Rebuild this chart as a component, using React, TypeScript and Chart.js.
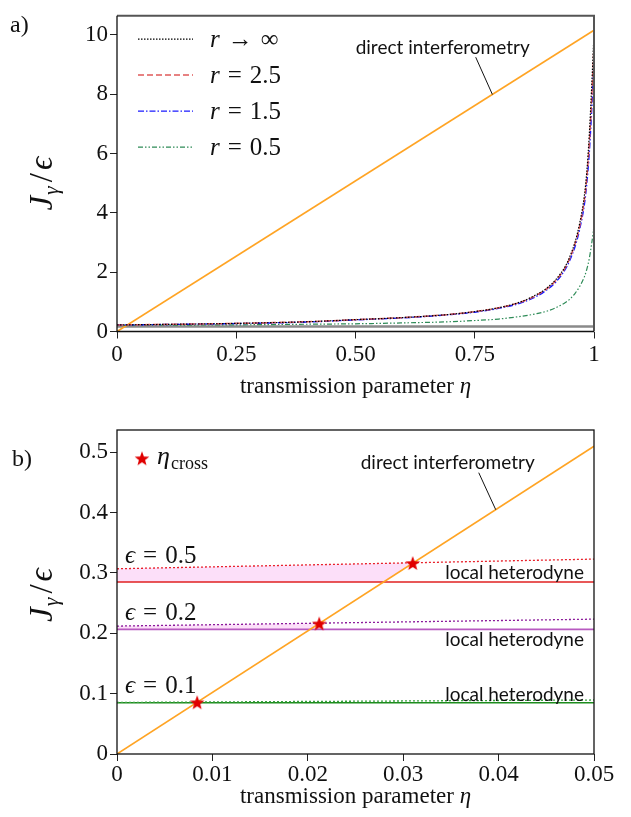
import React, { useEffect, useRef } from "react";
import { Chart, registerables } from "chart.js";
Chart.register(...registerables);

// ---------------- Panel a) data ----------------
const etaA = [0, 0.1, 0.2, 0.3, 0.4, 0.5, 0.6, 0.7, 0.75, 0.8, 0.85, 0.88, 0.9, 0.92, 0.94, 0.95, 0.96, 0.97, 0.98, 0.985, 0.99, 0.995, 0.998, 1];
const jRInf = [0.22, 0.24, 0.26, 0.29, 0.33, 0.4, 0.47, 0.58, 0.67, 0.8, 1.02, 1.25, 1.45, 1.75, 2.2, 2.55, 3.0, 3.65, 4.6, 5.4, 6.6, 8.2, 9.3, 10.1];
const jR25 = [0.22, 0.24, 0.26, 0.29, 0.33, 0.4, 0.47, 0.58, 0.67, 0.8, 1.01, 1.23, 1.43, 1.72, 2.16, 2.5, 2.95, 3.55, 4.45, 5.2, 6.3, 7.8, 8.9, 9.7];
const jR15 = [0.22, 0.235, 0.255, 0.28, 0.32, 0.39, 0.46, 0.57, 0.65, 0.78, 0.98, 1.19, 1.39, 1.67, 2.1, 2.43, 2.85, 3.45, 4.3, 5.0, 6.0, 7.4, 8.4, 9.2];
const jR05 = [0.21, 0.215, 0.22, 0.23, 0.245, 0.26, 0.29, 0.33, 0.37, 0.42, 0.52, 0.6, 0.68, 0.8, 0.98, 1.1, 1.28, 1.52, 1.85, 2.1, 2.45, 2.95, 3.3, 3.6];
const etaDirectA = [0, 1];
const jDirectA = [0, 10.15];
const jHeteroA = 0.165;
const legendRelA = ["→", "=", "=", "="];
const legendValA = ["∞", "2.5", "1.5", "0.5"];
const xTicksA = [0, 0.25, 0.5, 0.75, 1];
const xLabelsA = ["0", "0.25", "0.50", "0.75", "1"];
const yTicksA = [0, 2, 4, 6, 8, 10];
const yLabelsA = ["0", "2", "4", "6", "8", "10"];

// ---------------- Panel b) data ----------------
const etaB = [0, 0.05];
const jDirectB = [0, 0.51];
const epsLabels = ["0.5", "0.2", "0.1"];
const jDot05 = [0.307, 0.323];
const jDot02 = [0.212, 0.2235];
const jDot01 = [0.0855, 0.0895];
const jHet05 = 0.285;
const jHet02 = 0.2065;
const jHet01 = 0.085;
const crossEta = [0.0084, 0.0212, 0.031];
const crossJ = [0.0857, 0.2163, 0.3165];
const xTicksB = [0, 0.01, 0.02, 0.03, 0.04, 0.05];
const xLabelsB = ["0", "0.01", "0.02", "0.03", "0.04", "0.05"];
const yTicksB = [0, 0.1, 0.2, 0.3, 0.4, 0.5];
const yLabelsB = ["0", "0.1", "0.2", "0.3", "0.4", "0.5"];

// ---------------- helpers ----------------
const SERIF = '"Liberation Serif", serif';
const SANS = 'Lato, "Open Sans", sans-serif';
const ORANGE = "#ffa424";

function interp(xs: number[], ys: number[], x: number) {
  for (let i = 0; i < xs.length - 1; i++) {
    if (x >= xs[i] && x <= xs[i + 1]) {
      const t = (x - xs[i]) / (xs[i + 1] - xs[i]);
      return ys[i] + t * (ys[i + 1] - ys[i]);
    }
  }
  return ys[ys.length - 1];
}
function invInterp(xs: number[], ys: number[], y: number) {
  for (let i = 0; i < xs.length - 1; i++) {
    const lo = Math.min(ys[i], ys[i + 1]);
    const hi = Math.max(ys[i], ys[i + 1]);
    if (y >= lo && y <= hi) {
      const t = (y - ys[i]) / (ys[i + 1] - ys[i]);
      return xs[i] + t * (xs[i + 1] - xs[i]);
    }
  }
  return xs[xs.length - 1];
}
const pts = (xs: number[], ys: number[]) => xs.map((x, i) => ({ x, y: ys[i] }));

type Run = { t: string; f: string; dy?: number; gap?: number };
function drawRuns(ctx: CanvasRenderingContext2D, runs: Run[], x: number, y: number, align: "left" | "center" | "right") {
  ctx.textAlign = "left";
  let total = 0;
  const ws = runs.map((r) => {
    ctx.font = r.f;
    const w = ctx.measureText(r.t).width;
    total += w + (r.gap || 0);
    return w;
  });
  let cx = align === "left" ? x : align === "center" ? x - total / 2 : x - total;
  runs.forEach((r, i) => {
    ctx.font = r.f;
    ctx.fillText(r.t, cx, y + (r.dy || 0));
    cx += ws[i] + (r.gap || 0);
  });
}

function drawYTitle(ctx: CanvasRenderingContext2D, bx: number, cy: number) {
  ctx.save();
  ctx.translate(bx, cy);
  ctx.rotate(-Math.PI / 2);
  ctx.fillStyle = "#111";
  ctx.textBaseline = "alphabetic";
  drawRuns(
    ctx,
    [
      { t: "J", f: `italic 33px ${SERIF}`, gap: 1 },
      { t: "γ", f: `italic 22px ${SERIF}`, dy: 6, gap: 4 },
      { t: "/", f: `33px ${SERIF}`, gap: 3 },
      { t: "ϵ", f: `italic 33px ${SERIF}` },
    ],
    0,
    0,
    "center"
  );
  ctx.restore();
}

function drawXTitle(ctx: CanvasRenderingContext2D, cx: number, cy: number) {
  ctx.save();
  ctx.fillStyle = "#111";
  ctx.textBaseline = "middle";
  drawRuns(
    ctx,
    [
      { t: "transmission parameter ", f: `23px ${SERIF}` },
      { t: "η", f: `italic 23px ${SERIF}` },
    ],
    cx,
    cy,
    "center"
  );
  ctx.restore();
}

function makeStar(size: number, color: string) {
  const c = document.createElement("canvas");
  c.width = size;
  c.height = size;
  const g = c.getContext("2d")!;
  const cx = size / 2;
  const cy = size / 2 + 0.8;
  const r = size / 2 - 0.3;
  const ri = r * 0.42;
  g.beginPath();
  for (let k = 0; k < 10; k++) {
    const a = -Math.PI / 2 + (k * Math.PI) / 5;
    const rr = k % 2 ? ri : r;
    g.lineTo(cx + rr * Math.cos(a), cy + rr * Math.sin(a));
  }
  g.closePath();
  g.fillStyle = color;
  g.fill();
  return c;
}

function axis(min: number, max: number, ticks: number[], labels: string[], isX: boolean, size: number, pad: number) {
  return {
    type: "linear" as const,
    min,
    max,
    afterBuildTicks: (s: any) => {
      s.ticks = ticks.map((v) => ({ value: v }));
    },
    afterFit: (s: any) => {
      if (isX) s.height = size;
      else s.width = size;
    },
    ticks: {
      autoSkip: false,
      maxRotation: 0,
      color: "#111",
      padding: pad,
      font: { family: SERIF, size: 23 },
      callback: (_v: any, i: number) => labels[i] ?? "",
    },
    grid: { display: true, drawOnChartArea: false, drawTicks: true, tickLength: 7, color: "#222", lineWidth: 1 },
    border: { display: false },
  };
}

const lineBase = { pointRadius: 0, fill: false, cubicInterpolationMode: "monotone" as const };

// ---------------- Panel a config ----------------
function configA(): any {
  const annEta = 0.787;
  const decor = {
    id: "decorA",
    afterDraw(chart: any) {
      const { ctx, chartArea: ca, scales } = chart;
      const x = scales.x;
      const y = scales.y;
      ctx.save();
      ctx.strokeStyle = "#555";
      ctx.lineWidth = 2;
      ctx.beginPath();
      ctx.moveTo(ca.left, ca.top);
      ctx.lineTo(ca.right, ca.top);
      ctx.lineTo(ca.right, ca.bottom);
      ctx.stroke();
      ctx.strokeStyle = "#111";
      ctx.lineWidth = 1.3;
      ctx.beginPath();
      ctx.moveTo(ca.left, ca.top);
      ctx.lineTo(ca.left, ca.bottom);
      ctx.lineTo(ca.right, ca.bottom);
      ctx.stroke();

      const ds = chart.data.datasets;
      for (let i = 0; i < 4; i++) {
        const d = ds[i];
        const ly = ca.top + 23.3 + i * 36;
        ctx.save();
        ctx.strokeStyle = d.borderColor;
        ctx.lineWidth = d.borderWidth;
        ctx.setLineDash(d.borderDash || []);
        ctx.beginPath();
        ctx.moveTo(ca.left + 21, ly);
        ctx.lineTo(ca.left + 76, ly);
        ctx.stroke();
        ctx.restore();
        ctx.fillStyle = "#111";
        ctx.textBaseline = "middle";
        drawRuns(
          ctx,
          [
            { t: "r", f: `italic 25px ${SERIF}`, gap: 8 },
            { t: legendRelA[i], f: `25px ${SERIF}`, gap: 8 },
            { t: legendValA[i], f: `25px ${SERIF}` },
          ],
          ca.left + 93,
          ly + 1,
          "left"
        );
      }

      const tx = x.getPixelForValue(annEta);
      const ty = y.getPixelForValue(interp(etaDirectA, jDirectA, annEta));
      ctx.strokeStyle = "#111";
      ctx.lineWidth = 1;
      ctx.beginPath();
      ctx.moveTo(tx - 16.7, ty - 37.3);
      ctx.lineTo(tx, ty);
      ctx.stroke();
      ctx.fillStyle = "#111";
      ctx.textBaseline = "middle";
      ctx.font = `19px ${SANS}`;
      ctx.textAlign = "right";
      ctx.fillText("direct interferometry", tx + 37.3, ty - 46.3);

      ctx.textAlign = "left";
      ctx.font = `24px ${SERIF}`;
      ctx.fillText("a)", 10, 26);

      drawYTitle(ctx, 52, (ca.top + ca.bottom) / 2 + 10);
      drawXTitle(ctx, (ca.left + ca.right) / 2, ca.bottom + 55.5);
      ctx.restore();
    },
  };

  return {
    type: "line",
    data: {
      datasets: [
        { ...lineBase, label: "r→∞", data: pts(etaA, jRInf), borderColor: "#000", borderWidth: 1.2, borderDash: [1.5, 1.5] },
        { ...lineBase, label: "r=2.5", data: pts(etaA, jR25), borderColor: "#e05a5a", borderWidth: 1.5, borderDash: [6, 3] },
        { ...lineBase, label: "r=1.5", data: pts(etaA, jR15), borderColor: "#1a1aff", borderWidth: 1.4, borderDash: [6, 2, 1.5, 2] },
        { ...lineBase, label: "r=0.5", data: pts(etaA, jR05), borderColor: "#2e8b57", borderWidth: 1.2, borderDash: [5, 2, 1.5, 2, 1.5, 2] },
        { ...lineBase, label: "direct", data: pts(etaDirectA, jDirectA), borderColor: ORANGE, borderWidth: 1.7 },
        { ...lineBase, label: "hetero", data: pts(etaDirectA, [jHeteroA, jHeteroA]), borderColor: "#8a8a8a", borderWidth: 2.5 },
      ],
    },
    options: {
      responsive: false,
      maintainAspectRatio: false,
      animation: false,
      devicePixelRatio: 1,
      events: [],
      layout: { padding: { left: 0, right: 37, top: 10, bottom: 6.5 } },
      plugins: { legend: { display: false }, tooltip: { enabled: false } },
      scales: {
        x: axis(0, 1, xTicksA, xLabelsA, true, 70, 3),
        y: axis(0, 10.64, yTicksA, yLabelsA, false, 117, 2),
      },
    },
    plugins: [decor],
  };
}

// ---------------- Panel b config ----------------
function configB(): any {
  const star = makeStar(16, "#e00000");
  const fillPair = (dot: number[], het: number, cEta: number) => {
    const hit = invInterp(etaB, jDirectB, het);
    const xs = [0, hit, cEta];
    const upper = xs.map((e) => interp(etaB, dot, e));
    const lower = [het, het, interp(etaB, dot, cEta)];
    return { upper: pts(xs, upper), lower: pts(xs, lower) };
  };
  const f05 = fillPair(jDot05, jHet05, crossEta[2]);
  const f02 = fillPair(jDot02, jHet02, crossEta[1]);
  const FILL = "rgba(246,150,236,0.3)";
  const annEta = 0.0397;
  const dots = [jDot05, jDot02, jDot01];
  const hets = [jHet05, jHet02, jHet01];
  const epsOff = [-6, -6, -9];
  const hetOff = [-9, 10, -8];

  const decor = {
    id: "decorB",
    afterDraw(chart: any) {
      const { ctx, chartArea: ca, scales } = chart;
      const x = scales.x;
      const y = scales.y;
      ctx.save();
      ctx.strokeStyle = "#111";
      ctx.lineWidth = 1.3;
      ctx.strokeRect(ca.left, ca.top, ca.right - ca.left, ca.bottom - ca.top);

      ctx.fillStyle = "#111";
      ctx.textBaseline = "alphabetic";
      for (let i = 0; i < 3; i++) {
        const py = y.getPixelForValue(dots[i][0]) + epsOff[i];
        drawRuns(
          ctx,
          [
            { t: "ϵ", f: `italic 25px ${SERIF}`, gap: 8 },
            { t: "=", f: `25px ${SERIF}`, gap: 8 },
            { t: epsLabels[i], f: `25px ${SERIF}` },
          ],
          ca.left + 8,
          py,
          "left"
        );
      }
      ctx.textBaseline = "middle";
      ctx.font = `19px ${SANS}`;
      ctx.textAlign = "right";
      for (let i = 0; i < 3; i++) {
        const py = y.getPixelForValue(hets[i]) + hetOff[i];
        ctx.fillText("local heterodyne", ca.right - 10, py);
      }
      const tx = x.getPixelForValue(annEta);
      const ty = y.getPixelForValue(interp(etaB, jDirectB, annEta));
      ctx.lineWidth = 1;
      ctx.beginPath();
      ctx.moveTo(tx - 17, ty - 37);
      ctx.lineTo(tx, ty);
      ctx.stroke();
      ctx.fillText("direct interferometry", tx + 39, ty - 47);

      const sx = ca.left + 25;
      const sy = ca.top + 28.3;
      ctx.drawImage(star, sx - star.width / 2, sy - star.height / 2);
      ctx.textBaseline = "alphabetic";
      drawRuns(
        ctx,
        [
          { t: "η", f: `italic 26px ${SERIF}`, gap: 1 },
          { t: "cross", f: `18px ${SERIF}`, dy: 5 },
        ],
        sx + 15,
        sy + 6,
        "left"
      );

      ctx.textAlign = "left";
      ctx.textBaseline = "middle";
      ctx.font = `24px ${SERIF}`;
      ctx.fillText("b)", 12, 52);

      drawYTitle(ctx, 52, (ca.top + ca.bottom) / 2 + 3);
      drawXTitle(ctx, (ca.left + ca.right) / 2, ca.bottom + 43);
      ctx.restore();
    },
  };

  return {
    type: "line",
    data: {
      datasets: [
        { label: "η_cross", data: pts(crossEta, crossJ), showLine: false, pointStyle: star, pointRadius: 8, borderWidth: 0 },
        { ...lineBase, label: "direct", data: pts(etaB, jDirectB), borderColor: ORANGE, borderWidth: 1.6 },
        { ...lineBase, label: "dot05", data: pts(etaB, jDot05), borderColor: "#e8202a", borderWidth: 1.3, borderDash: [2, 2] },
        { ...lineBase, label: "dot02", data: pts(etaB, jDot02), borderColor: "#8b1a9b", borderWidth: 1.3, borderDash: [2, 2] },
        { ...lineBase, label: "dot01", data: pts(etaB, jDot01), borderColor: "#3aa040", borderWidth: 1.3, borderDash: [2, 2] },
        { ...lineBase, label: "het05", data: pts(etaB, [jHet05, jHet05]), borderColor: "#e02020", borderWidth: 1.4 },
        { ...lineBase, label: "het02", data: pts(etaB, [jHet02, jHet02]), borderColor: "#b75ac0", borderWidth: 1.6 },
        { ...lineBase, label: "het01", data: pts(etaB, [jHet01, jHet01]), borderColor: "#1d8c1d", borderWidth: 1.4 },
        { label: "fillU05", data: f05.upper, pointRadius: 0, borderWidth: 0, borderColor: "rgba(0,0,0,0)", backgroundColor: FILL, fill: { target: 9 } },
        { label: "fillL05", data: f05.lower, pointRadius: 0, borderWidth: 0, borderColor: "rgba(0,0,0,0)", fill: false },
        { label: "fillU02", data: f02.upper, pointRadius: 0, borderWidth: 0, borderColor: "rgba(0,0,0,0)", backgroundColor: FILL, fill: { target: 11 } },
        { label: "fillL02", data: f02.lower, pointRadius: 0, borderWidth: 0, borderColor: "rgba(0,0,0,0)", fill: false },
      ],
    },
    options: {
      responsive: false,
      maintainAspectRatio: false,
      animation: false,
      devicePixelRatio: 1,
      events: [],
      layout: { padding: { left: 0, right: 37, top: 22, bottom: 5 } },
      plugins: { legend: { display: false }, tooltip: { enabled: false } },
      scales: {
        x: axis(0, 0.05, xTicksB, xLabelsB, true, 58, 0),
        y: axis(0, 0.537, yTicksB, yLabelsB, false, 117, 2),
      },
    },
    plugins: [decor],
  };
}

export default function App() {
  const refA = useRef<HTMLCanvasElement>(null);
  const refB = useRef<HTMLCanvasElement>(null);
  useEffect(() => {
    const a = new Chart(refA.current!, configA());
    const b = new Chart(refB.current!, configB());
    return () => {
      a.destroy();
      b.destroy();
    };
  }, []);
  return (
    <div style={{ position: "absolute", left: 0, top: 0, width: 631, height: 817, background: "#fff" }}>
      <canvas ref={refA} width={631} height={408} style={{ position: "absolute", left: 0, top: 0, width: 631, height: 408 }} />
      <canvas ref={refB} width={631} height={409} style={{ position: "absolute", left: 0, top: 408, width: 631, height: 409 }} />
    </div>
  );
}
